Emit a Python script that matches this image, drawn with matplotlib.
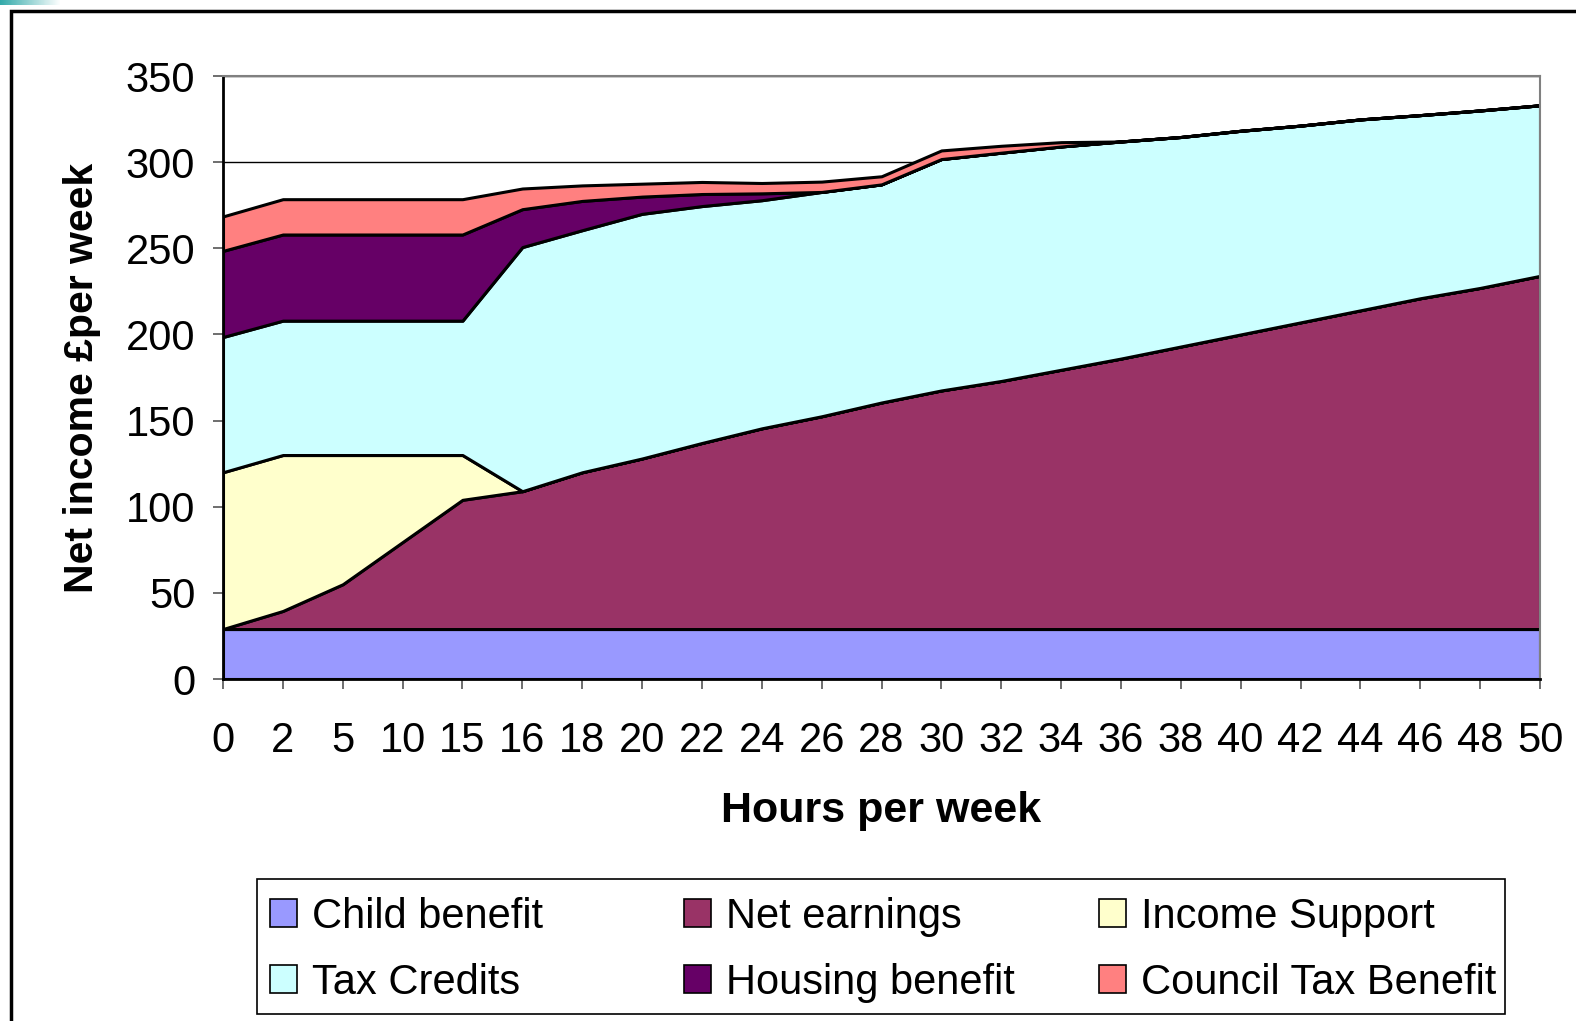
import matplotlib.pyplot as plt
import numpy as np
from matplotlib.patches import Rectangle, Patch

plt.rcParams['font.family'] = ['Liberation Sans', 'DejaVu Sans']

hours = ['0', '2', '5', '10', '15', '16', '18', '20', '22', '24', '26', '28',
         '30', '32', '34', '36', '38', '40', '42', '44', '46', '48', '50']
child_benefit = [29] * 23
net_earnings = [0, 10.5, 26, 50.5, 75, 80, 91, 99, 108, 116.5, 123.5, 131.5,
                138.5, 144, 150.5, 157, 164, 171, 178, 185, 192, 198, 205]
income_support = [91, 90.5, 75, 50.5, 26, 0, 0, 0, 0, 0, 0, 0,
                  0, 0, 0, 0, 0, 0, 0, 0, 0, 0, 0]
tax_credits = [78.5, 78, 78, 78, 78, 141.7, 140.5, 142, 137.5, 132.4, 130.2, 126.6,
               134.3, 132.5, 129.6, 126, 121.6, 118.2, 114.2, 110.8, 106.3, 103, 99]
housing_benefit = [50, 50, 50, 50, 50, 22, 17, 10, 7, 4, 0, 0,
                   0, 0, 0, 0, 0, 0, 0, 0, 0, 0, 0]
council_tax = [20, 20.5, 20.5, 20.5, 20.5, 12, 9, 7.5, 7, 6, 6, 4.7,
               5, 4, 2.5, 0, 0, 0, 0, 0, 0, 0, 0]

names = ['Child benefit', 'Net earnings', 'Income Support',
         'Tax Credits', 'Housing benefit', 'Council Tax Benefit']
colors = ['#9999FF', '#993366', '#FFFFCC', '#CCFFFF', '#660066', '#FF8080']

W, H = 1576, 1021
fig = plt.figure(figsize=(W / 100, H / 100), dpi=100)

# outer chart frame and the little teal strip in the corner
fig.patches.append(Rectangle((11 / W, -0.05), 1.2, 1 - 11 / H + 0.05,
                             transform=fig.transFigure, fill=False,
                             edgecolor='black', lw=2.5))
strip = fig.add_axes([0, 1 - 5 / H, 60 / W, 5 / H])
strip.imshow(np.linspace(0, 1, 50)[None, :],
             cmap=plt.cm.colors.LinearSegmentedColormap.from_list('s', ['#33aaaa', '#ffffff']),
             aspect='auto')
strip.axis('off')

ax = fig.add_axes([223 / W, 1 - 679 / H, (1540 - 223) / W, (679 - 76) / H])
x = np.arange(len(hours))
series = [child_benefit, net_earnings, income_support, tax_credits, housing_benefit, council_tax]
ax.stackplot(x, *series, colors=colors, edgecolor='black', linewidth=2.2, zorder=2)

ax.set_xlim(0, len(hours) - 1)
ax.set_ylim(0, 350)
ax.set_xticks(x)
ax.set_xticklabels(hours)
ax.set_yticks(np.arange(0, 351, 50))
ax.yaxis.grid(True, color='black', lw=1)
ax.set_axisbelow(True)
ax.tick_params(axis='both', labelsize=30, direction='out', length=7, width=1.2, color='#555555')
ax.tick_params(axis='y', pad=13)
ax.tick_params(axis='x', pad=23)
for s in ['top', 'right']:
    ax.spines[s].set_color('#808080')
    ax.spines[s].set_linewidth(1.5)
for s in ['left', 'bottom']:
    ax.spines[s].set_color('black')
    ax.spines[s].set_linewidth(2)

ax.set_xlabel('Hours per week', fontsize=31, fontweight='bold', labelpad=22)
ax.set_ylabel('Net income £per week', fontsize=29.5, fontweight='bold', labelpad=18)

# legend frame, then one legend per column
fig.patches.append(Rectangle((257 / W, 1 - 1014 / H), (1505 - 257) / W, (1014 - 879) / H,
                             transform=fig.transFigure, fill=False,
                             edgecolor='black', lw=1.2))
col_x = [270, 684, 1099]
for c in range(3):
    idx = [c, c + 3]
    handles = [Patch(facecolor=colors[i], edgecolor='black', lw=1.2) for i in idx]
    labels = [names[i] for i in idx]
    fig.legend(handles, labels, loc='upper left',
               bbox_to_anchor=(col_x[c] / W, 1 - 897 / H),
               fontsize=30, frameon=False,
               handlelength=0.65, handleheight=0.65, handletextpad=0.35,
               borderaxespad=0, borderpad=0, labelspacing=0.62)

fig.savefig('out.png', dpi=100)
